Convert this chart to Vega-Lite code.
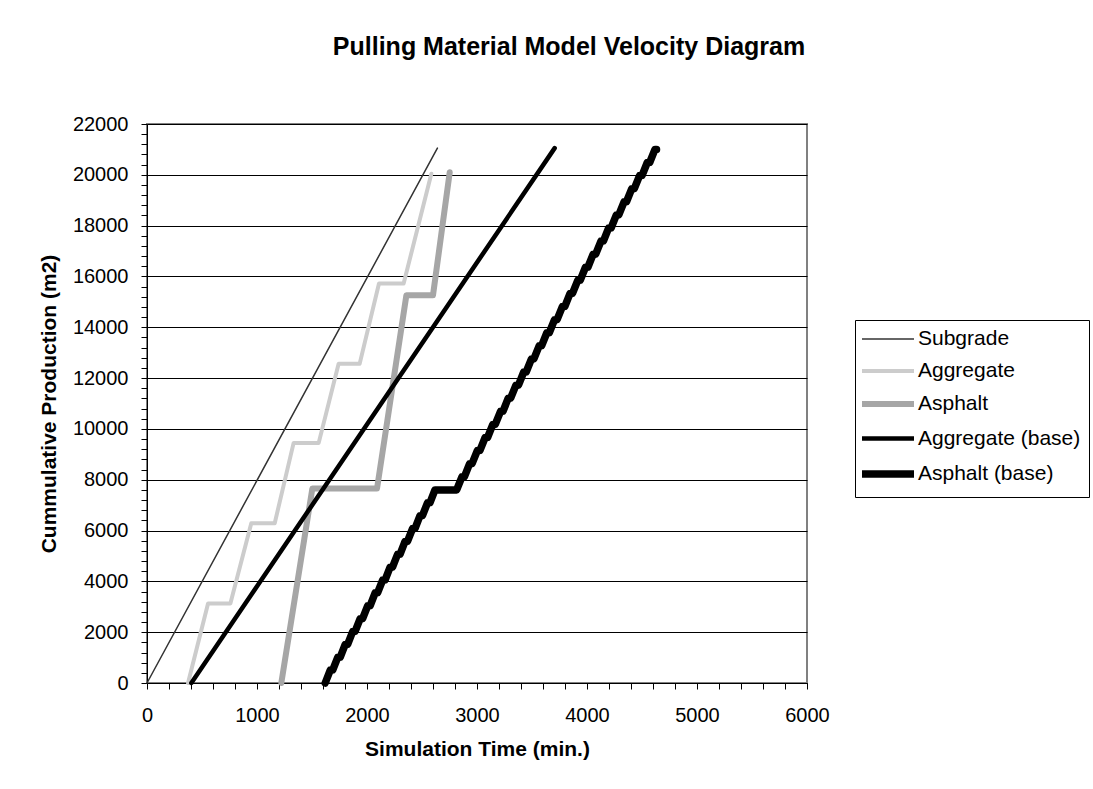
{
  "$schema": "https://vega.github.io/schema/vega-lite/v6.json",
  "width": 660,
  "height": 559,
  "autosize": {"type": "none"},
  "padding": {"left": 147, "top": 124, "right": 286, "bottom": 106},
  "background": "white",
  "title": {
    "text": "Pulling Material Model Velocity Diagram",
    "font": "Liberation Sans",
    "fontSize": 25,
    "fontWeight": "bold",
    "color": "black",
    "anchor": "middle",
    "dx": 92,
    "offset": 54
  },
  "data": {
    "values": [
      {"s": "Subgrade", "t": 0, "v": 0},
      {"s": "Subgrade", "t": 2640, "v": 21050},

      {"s": "Aggregate", "t": 373, "v": 0},
      {"s": "Aggregate", "t": 555, "v": 3130},
      {"s": "Aggregate", "t": 758, "v": 3130},
      {"s": "Aggregate", "t": 948, "v": 6290},
      {"s": "Aggregate", "t": 1161, "v": 6290},
      {"s": "Aggregate", "t": 1333, "v": 9450},
      {"s": "Aggregate", "t": 1561, "v": 9450},
      {"s": "Aggregate", "t": 1742, "v": 12560},
      {"s": "Aggregate", "t": 1933, "v": 12560},
      {"s": "Aggregate", "t": 2109, "v": 15720},
      {"s": "Aggregate", "t": 2333, "v": 15720},
      {"s": "Aggregate", "t": 2585, "v": 20040},

      {"s": "Asphalt", "t": 1221, "v": 0},
      {"s": "Asphalt", "t": 1503, "v": 7650},
      {"s": "Asphalt", "t": 2091, "v": 7650},
      {"s": "Asphalt", "t": 2358, "v": 15260},
      {"s": "Asphalt", "t": 2600, "v": 15260},
      {"s": "Asphalt", "t": 2752, "v": 20100},

      {"s": "Aggregate (base)", "t": 403, "v": 0},
      {"s": "Aggregate (base)", "t": 3706, "v": 21050},

      {"s": "Asphalt (base)", "t": 1620, "v": 0},
      {"s": "Asphalt (base)", "t": 1666, "v": 507},
      {"s": "Asphalt (base)", "t": 1688, "v": 507},
      {"s": "Asphalt (base)", "t": 1734, "v": 1013},
      {"s": "Asphalt (base)", "t": 1756, "v": 1013},
      {"s": "Asphalt (base)", "t": 1802, "v": 1520},
      {"s": "Asphalt (base)", "t": 1824, "v": 1520},
      {"s": "Asphalt (base)", "t": 1870, "v": 2027},
      {"s": "Asphalt (base)", "t": 1892, "v": 2027},
      {"s": "Asphalt (base)", "t": 1938, "v": 2533},
      {"s": "Asphalt (base)", "t": 1960, "v": 2533},
      {"s": "Asphalt (base)", "t": 2006, "v": 3040},
      {"s": "Asphalt (base)", "t": 2028, "v": 3040},
      {"s": "Asphalt (base)", "t": 2074, "v": 3547},
      {"s": "Asphalt (base)", "t": 2096, "v": 3547},
      {"s": "Asphalt (base)", "t": 2142, "v": 4053},
      {"s": "Asphalt (base)", "t": 2164, "v": 4053},
      {"s": "Asphalt (base)", "t": 2210, "v": 4560},
      {"s": "Asphalt (base)", "t": 2232, "v": 4560},
      {"s": "Asphalt (base)", "t": 2278, "v": 5067},
      {"s": "Asphalt (base)", "t": 2300, "v": 5067},
      {"s": "Asphalt (base)", "t": 2346, "v": 5573},
      {"s": "Asphalt (base)", "t": 2368, "v": 5573},
      {"s": "Asphalt (base)", "t": 2414, "v": 6080},
      {"s": "Asphalt (base)", "t": 2436, "v": 6080},
      {"s": "Asphalt (base)", "t": 2482, "v": 6587},
      {"s": "Asphalt (base)", "t": 2504, "v": 6587},
      {"s": "Asphalt (base)", "t": 2550, "v": 7093},
      {"s": "Asphalt (base)", "t": 2572, "v": 7093},
      {"s": "Asphalt (base)", "t": 2618, "v": 7600},
      {"s": "Asphalt (base)", "t": 2815, "v": 7600},
      {"s": "Asphalt (base)", "t": 2863, "v": 8115},
      {"s": "Asphalt (base)", "t": 2885, "v": 8115},
      {"s": "Asphalt (base)", "t": 2933, "v": 8631},
      {"s": "Asphalt (base)", "t": 2955, "v": 8631},
      {"s": "Asphalt (base)", "t": 3003, "v": 9146},
      {"s": "Asphalt (base)", "t": 3026, "v": 9146},
      {"s": "Asphalt (base)", "t": 3074, "v": 9662},
      {"s": "Asphalt (base)", "t": 3096, "v": 9662},
      {"s": "Asphalt (base)", "t": 3144, "v": 10177},
      {"s": "Asphalt (base)", "t": 3166, "v": 10177},
      {"s": "Asphalt (base)", "t": 3214, "v": 10692},
      {"s": "Asphalt (base)", "t": 3236, "v": 10692},
      {"s": "Asphalt (base)", "t": 3284, "v": 11208},
      {"s": "Asphalt (base)", "t": 3306, "v": 11208},
      {"s": "Asphalt (base)", "t": 3354, "v": 11723},
      {"s": "Asphalt (base)", "t": 3377, "v": 11723},
      {"s": "Asphalt (base)", "t": 3425, "v": 12239},
      {"s": "Asphalt (base)", "t": 3447, "v": 12239},
      {"s": "Asphalt (base)", "t": 3495, "v": 12754},
      {"s": "Asphalt (base)", "t": 3517, "v": 12754},
      {"s": "Asphalt (base)", "t": 3565, "v": 13269},
      {"s": "Asphalt (base)", "t": 3587, "v": 13269},
      {"s": "Asphalt (base)", "t": 3635, "v": 13785},
      {"s": "Asphalt (base)", "t": 3657, "v": 13785},
      {"s": "Asphalt (base)", "t": 3705, "v": 14300},
      {"s": "Asphalt (base)", "t": 3728, "v": 14300},
      {"s": "Asphalt (base)", "t": 3776, "v": 14816},
      {"s": "Asphalt (base)", "t": 3798, "v": 14816},
      {"s": "Asphalt (base)", "t": 3846, "v": 15331},
      {"s": "Asphalt (base)", "t": 3868, "v": 15331},
      {"s": "Asphalt (base)", "t": 3916, "v": 15846},
      {"s": "Asphalt (base)", "t": 3938, "v": 15846},
      {"s": "Asphalt (base)", "t": 3986, "v": 16362},
      {"s": "Asphalt (base)", "t": 4008, "v": 16362},
      {"s": "Asphalt (base)", "t": 4056, "v": 16877},
      {"s": "Asphalt (base)", "t": 4079, "v": 16877},
      {"s": "Asphalt (base)", "t": 4127, "v": 17392},
      {"s": "Asphalt (base)", "t": 4149, "v": 17392},
      {"s": "Asphalt (base)", "t": 4197, "v": 17908},
      {"s": "Asphalt (base)", "t": 4219, "v": 17908},
      {"s": "Asphalt (base)", "t": 4267, "v": 18423},
      {"s": "Asphalt (base)", "t": 4289, "v": 18423},
      {"s": "Asphalt (base)", "t": 4337, "v": 18939},
      {"s": "Asphalt (base)", "t": 4359, "v": 18939},
      {"s": "Asphalt (base)", "t": 4407, "v": 19454},
      {"s": "Asphalt (base)", "t": 4430, "v": 19454},
      {"s": "Asphalt (base)", "t": 4478, "v": 19970},
      {"s": "Asphalt (base)", "t": 4500, "v": 19970},
      {"s": "Asphalt (base)", "t": 4548, "v": 20485},
      {"s": "Asphalt (base)", "t": 4570, "v": 20485},
      {"s": "Asphalt (base)", "t": 4618, "v": 21000},
      {"s": "Asphalt (base)", "t": 4632, "v": 21000}
    ]
  },
  "mark": {"type": "line", "strokeCap": "round", "strokeJoin": "round"},
  "encoding": {
    "x": {
      "field": "t",
      "type": "quantitative",
      "scale": {"domain": [0, 6000], "nice": false, "zero": false},
      "axis": {
        "title": "Simulation Time (min.)",
        "titleFont": "Liberation Sans",
        "titleFontSize": 21,
        "titleFontWeight": "bold",
        "titleColor": "black",
        "titlePadding": 13,
        "values": [0,200,400,600,800,1000,1200,1400,1600,1800,2000,2200,2400,2600,2800,3000,3200,3400,3600,3800,4000,4200,4400,4600,4800,5000,5200,5400,5600,5800,6000],
        "labelExpr": "datum.value % 1000 === 0 ? datum.label : ''",
        "format": "d",
        "labelOverlap": false,
        "labelBound": false,
        "labelFlush": false,
        "labelFont": "Liberation Sans",
        "labelFontSize": 20,
        "labelColor": "black",
        "labelPadding": 16,
        "tickSize": 6,
        "tickColor": "black",
        "domainColor": "black",
        "grid": false
      }
    },
    "y": {
      "field": "v",
      "type": "quantitative",
      "scale": {"domain": [0, 22000], "nice": false},
      "axis": {
        "title": "Cummulative Production (m2)",
        "titleFont": "Liberation Sans",
        "titleFontSize": 21,
        "titleFontWeight": "bold",
        "titleColor": "black",
        "titlePadding": 13,
        "values": [0,400,800,1200,1600,2000,2400,2800,3200,3600,4000,4400,4800,5200,5600,6000,6400,6800,7200,7600,8000,8400,8800,9200,9600,10000,10400,10800,11200,11600,12000,12400,12800,13200,13600,14000,14400,14800,15200,15600,16000,16400,16800,17200,17600,18000,18400,18800,19200,19600,20000,20400,20800,21200,21600,22000],
        "labelExpr": "datum.value % 2000 === 0 ? datum.label : ''",
        "format": "d",
        "labelOverlap": false,
        "labelBound": false,
        "labelFlush": false,
        "labelFont": "Liberation Sans",
        "labelFontSize": 20,
        "labelColor": "black",
        "labelPadding": 13,
        "tickSize": 6,
        "tickColor": "black",
        "domainColor": "black",
        "grid": true,
        "gridWidth": 1,
        "gridColor": {"condition": {"test": "datum.value % 2000 === 0", "value": "black"}, "value": "transparent"}
      }
    },
    "color": {
      "field": "s",
      "type": "nominal",
      "scale": {
        "type": "ordinal",
        "domain": ["Subgrade", "Aggregate", "Asphalt", "Aggregate (base)", "Asphalt (base)"],
        "range": ["#333333", "#cccccc", "#a6a6a6", "#000000", "#000000"]
      },
      "legend": {
        "title": null,
        "orient": "none",
        "legendX": 708,
        "legendY": 196,
        "strokeColor": "black",
        "fillColor": "white",
        "padding": 8,
        "labelFont": "Liberation Sans",
        "labelFontSize": 21,
        "labelColor": "black",
        "labelLimit": 400,
        "symbolType": "M-1.5,0H3.7",
        "symbolSize": 400,
        "labelOffset": 27,
        "rowPadding": 10
      }
    },
    "strokeWidth": {
      "field": "s",
      "type": "nominal",
      "scale": {
        "type": "ordinal",
        "domain": ["Subgrade", "Aggregate", "Asphalt", "Aggregate (base)", "Asphalt (base)"],
        "range": [1.5, 4, 6, 4.5, 7.5]
      },
      "legend": {
        "title": null,
        "orient": "none",
        "legendX": 708,
        "legendY": 196,
        "strokeColor": "black",
        "fillColor": "white",
        "padding": 8,
        "labelFont": "Liberation Sans",
        "labelFontSize": 21,
        "labelColor": "black",
        "labelLimit": 400,
        "symbolType": "M-1.5,0H3.7",
        "symbolSize": 400,
        "labelOffset": 27,
        "rowPadding": 10
      }
    }
  },
  "config": {
    "view": {"stroke": "#808080", "strokeWidth": 2}
  }
}
